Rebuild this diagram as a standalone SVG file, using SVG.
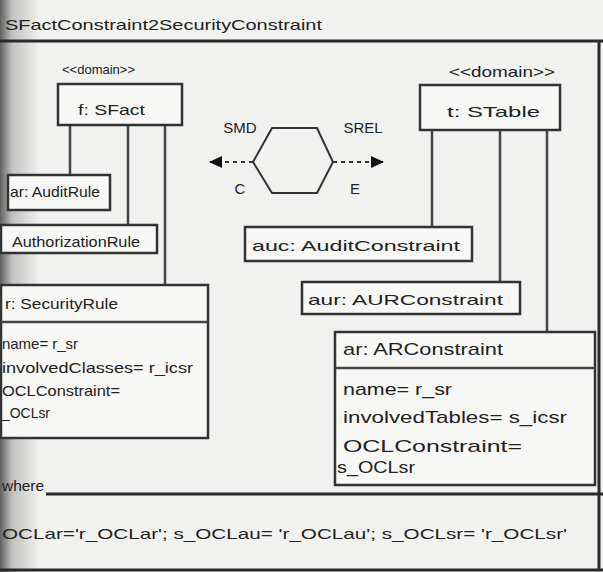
<svg xmlns="http://www.w3.org/2000/svg" width="603" height="572" viewBox="0 0 603 572">
<defs>
<linearGradient id="shadow" x1="0" y1="0" x2="1" y2="0">
<stop offset="0" stop-color="#000" stop-opacity="0.6"/>
<stop offset="0.3" stop-color="#000" stop-opacity="0.2"/>
<stop offset="1" stop-color="#000" stop-opacity="0"/>
</linearGradient>
<marker id="arr" markerWidth="13" markerHeight="12" refX="12" refY="6" orient="auto" markerUnits="userSpaceOnUse">
<path d="M0,0 L13,6 L0,12 z" fill="#111"/>
</marker>
</defs>
<style>
text{font-family:"Liberation Sans",Arial,sans-serif;fill:#222;font-size:15px}
.big{font-size:17px}
.sm{font-size:13px}
.box{fill:#f7f7f5;stroke:#333;stroke-width:2.5}
.ln{stroke:#444;stroke-width:2.5;fill:none}
.frame{stroke:#2a2a2a;stroke-width:3;fill:none}
.dash{stroke:#333;stroke-width:2;stroke-dasharray:4 4;fill:none}
</style>
<rect x="0" y="0" width="603" height="572" fill="#f1f1ef"/>
<rect x="0" y="0" width="40" height="572" fill="url(#shadow)"/>

<text x="5" y="30" textLength="317" lengthAdjust="spacingAndGlyphs">SFactConstraint2SecurityConstraint</text>
<g id="frame">
<line class="frame" x1="0" y1="41" x2="603" y2="41"/>
<line class="frame" x1="599" y1="41" x2="599" y2="570"/>
<line class="frame" x1="0" y1="570" x2="603" y2="570"/>
<line class="frame" x1="46" y1="494" x2="603" y2="494"/>
</g>

<g id="connectors">
<line class="ln" x1="70" y1="125" x2="70" y2="175"/>
<line class="ln" x1="128" y1="125" x2="128" y2="225"/>
<line class="ln" x1="165" y1="125" x2="165" y2="285"/>
<line class="ln" x1="432" y1="130" x2="432" y2="227"/>
<line class="ln" x1="500" y1="130" x2="500" y2="282"/>
<line class="ln" x1="547" y1="130" x2="547" y2="332"/>
<line class="dash" x1="253" y1="162" x2="210" y2="162" marker-end="url(#arr)"/>
<line class="dash" x1="333" y1="162" x2="383" y2="162" marker-end="url(#arr)"/>
</g>

<g id="relation">
<polygon points="253,162 272,128 317,128 333,162 317,193 272,193" fill="none" stroke="#333" stroke-width="2"/>
<text x="240" y="133" text-anchor="middle">SMD</text>
<text x="240" y="194" text-anchor="middle">C</text>
<text x="363" y="133" text-anchor="middle">SREL</text>
<text x="355" y="194" text-anchor="middle">E</text>
</g>

<g id="f-sfact">
<text class="sm" x="62" y="74" textLength="73" lengthAdjust="spacingAndGlyphs">&lt;&lt;domain&gt;&gt;</text>
<rect class="box" x="58" y="84" width="124" height="41"/>
<text x="78" y="115" textLength="67" lengthAdjust="spacingAndGlyphs">f: SFact</text>
</g>

<g id="ar-auditrule">
<rect class="box" x="8" y="175" width="102" height="35"/>
<text x="10" y="197" textLength="90" lengthAdjust="spacingAndGlyphs">ar: AuditRule</text>
</g>

<g id="aur-authorizationrule">
<rect class="box" x="1" y="225" width="156" height="28"/>
<text x="12" y="247" textLength="128" lengthAdjust="spacingAndGlyphs">AuthorizationRule</text>
</g>

<g id="r-securityrule">
<rect class="box" x="1" y="285" width="207" height="153"/>
<line class="ln" x1="1" y1="322" x2="208" y2="322"/>
<text x="5" y="309" textLength="113" lengthAdjust="spacingAndGlyphs">r: SecurityRule</text>
<text x="2" y="349" textLength="76" lengthAdjust="spacingAndGlyphs">name= r_sr</text>
<text x="2" y="373" textLength="191" lengthAdjust="spacingAndGlyphs">involvedClasses= r_icsr</text>
<text x="2" y="396" textLength="118" lengthAdjust="spacingAndGlyphs">OCLConstraint=</text>
<text x="2" y="418" textLength="48" lengthAdjust="spacingAndGlyphs">_OCLsr</text>
</g>

<g id="t-stable">
<text x="449" y="77" textLength="106" lengthAdjust="spacingAndGlyphs">&lt;&lt;domain&gt;&gt;</text>
<rect class="box" x="420" y="85" width="140" height="45"/>
<text x="447" y="117" textLength="93" lengthAdjust="spacingAndGlyphs">t: STable</text>
</g>

<g id="auc-auditconstraint">
<rect class="box" x="245" y="227" width="227" height="34"/>
<text x="252" y="251" textLength="208" lengthAdjust="spacingAndGlyphs">auc: AuditConstraint</text>
</g>

<g id="aur-aurconstraint">
<rect class="box" x="302" y="282" width="218" height="32"/>
<text x="308" y="305" textLength="195" lengthAdjust="spacingAndGlyphs">aur: AURConstraint</text>
</g>

<g id="ar-arconstraint">
<rect class="box" x="335" y="332" width="260" height="153"/>
<line class="ln" x1="335" y1="368" x2="595" y2="368"/>
<text class="big" x="343" y="355" textLength="160" lengthAdjust="spacingAndGlyphs">ar: ARConstraint</text>
<text class="big" x="343" y="395" textLength="109" lengthAdjust="spacingAndGlyphs">name= r_sr</text>
<text class="big" x="343" y="423" textLength="224" lengthAdjust="spacingAndGlyphs">involvedTables= s_icsr</text>
<text class="big" x="343" y="452" textLength="179" lengthAdjust="spacingAndGlyphs">OCLConstraint=</text>
<text class="big" x="337" y="473" textLength="78" lengthAdjust="spacingAndGlyphs">s_OCLsr</text>
</g>

<g id="where">
<text x="2" y="491" textLength="42" lengthAdjust="spacingAndGlyphs">where</text>
<text x="2" y="539" textLength="565" lengthAdjust="spacingAndGlyphs">OCLar='r_OCLar'; s_OCLau= 'r_OCLau'; s_OCLsr= 'r_OCLsr'</text>
</g>
</svg>
